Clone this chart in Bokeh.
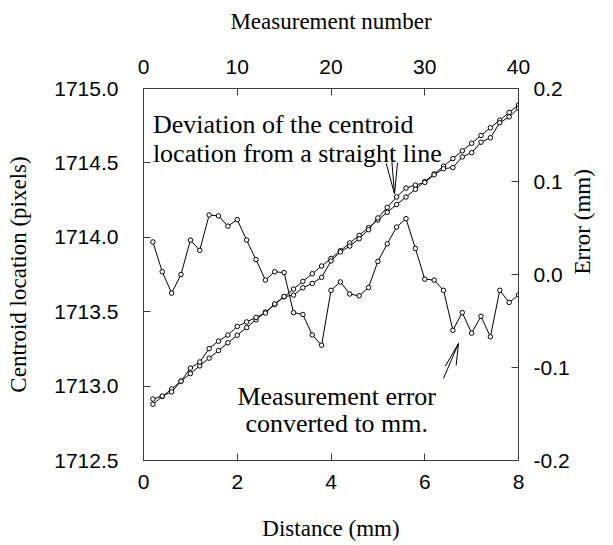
import math
from bokeh.plotting import figure
from bokeh.models import Range1d, LinearAxis, FixedTicker, Label, CustomJSTickFormatter, ColumnDataSource
from bokeh.embed import file_html
from bokeh.resources import INLINE

# ---- data ----
distance_mm = [0.2, 0.4, 0.6, 0.8, 1.0, 1.2, 1.4, 1.6, 1.8, 2.0,
               2.2, 2.4, 2.6, 2.8, 3.0, 3.2, 3.4, 3.6, 3.8, 4.0,
               4.2, 4.4, 4.6, 4.8, 5.0, 5.2, 5.4, 5.6, 5.8, 6.0,
               6.2, 6.4, 6.6, 6.8, 7.0, 7.2, 7.4, 7.6, 7.8, 8.0]

centroid_fit = [1712.878, 1712.930, 1712.981, 1713.033, 1713.084, 1713.136, 1713.188, 1713.239, 1713.291, 1713.342,
                1713.394, 1713.446, 1713.497, 1713.549, 1713.600, 1713.652, 1713.704, 1713.755, 1713.807, 1713.858,
                1713.910, 1713.962, 1714.013, 1714.065, 1714.116, 1714.168, 1714.220, 1714.271, 1714.323, 1714.374,
                1714.426, 1714.478, 1714.529, 1714.581, 1714.632, 1714.684, 1714.736, 1714.787, 1714.839, 1714.890]

centroid_measured = [1712.913, 1712.933, 1712.961, 1713.033, 1713.121, 1713.162, 1713.252, 1713.302, 1713.343, 1713.401,
                     1713.431, 1713.462, 1713.491, 1713.552, 1713.602, 1713.611, 1713.661, 1713.690, 1713.731, 1713.841,
                     1713.902, 1713.941, 1713.990, 1714.051, 1714.130, 1714.201, 1714.271, 1714.331, 1714.351, 1714.369,
                     1714.420, 1714.461, 1714.469, 1714.540, 1714.569, 1714.639, 1714.669, 1714.770, 1714.809, 1714.868]

error_mm = [0.035, 0.003, -0.020, 0.000, 0.037, 0.026, 0.064, 0.063, 0.052, 0.059,
            0.037, 0.016, -0.006, 0.003, 0.002, -0.041, -0.043, -0.065, -0.076, -0.017,
            -0.008, -0.021, -0.023, -0.014, 0.014, 0.033, 0.051, 0.060, 0.028, -0.005,
            -0.006, -0.017, -0.060, -0.041, -0.063, -0.045, -0.067, -0.017, -0.030, -0.022]

left_ticks = [1712.5, 1713.0, 1713.5, 1714.0, 1714.5, 1715.0]
bottom_ticks = [0, 2, 4, 6, 8]
top_ticks = [0, 10, 20, 30, 40]
right_ticks = [-0.2, -0.1, 0.0, 0.1, 0.2]

src = ColumnDataSource(dict(x=distance_mm, fit=centroid_fit, meas=centroid_measured, err=error_mm))

SERIF = "Liberation Serif"
SANS = "Liberation Sans"
AX = "#3a3a3a"

p = figure(width=613, height=545, output_backend="svg", toolbar_location=None,
           x_range=Range1d(0, 8), y_range=Range1d(1712.5, 1715.0),
           min_border_left=143, min_border_right=95, min_border_top=88, min_border_bottom=85,
           background_fill_color="white", border_fill_color="white")
p.outline_line_color = AX
p.grid.visible = False

p.extra_x_ranges = {"meas": Range1d(0, 40)}
p.extra_y_ranges = {"err": Range1d(-0.2, 0.2)}

p.xaxis.ticker = FixedTicker(ticks=bottom_ticks)
p.xaxis.axis_label = "Distance (mm)"
p.yaxis.ticker = FixedTicker(ticks=left_ticks)
p.yaxis.formatter = CustomJSTickFormatter(code="return tick.toFixed(1);")
p.yaxis.axis_label = "Centroid location (pixels)"

top = LinearAxis(x_range_name="meas", ticker=FixedTicker(ticks=top_ticks), axis_label="Measurement number")
p.add_layout(top, "above")
right = LinearAxis(y_range_name="err", ticker=FixedTicker(ticks=right_ticks),
                   formatter=CustomJSTickFormatter(code="return tick.toFixed(1);"),
                   axis_label="Error (mm)")
right.axis_label_orientation = math.pi / 2
p.add_layout(right, "right")

for ax in p.axis:
    ax.major_tick_in = 7
    ax.major_tick_out = 0
    ax.minor_tick_in = 0
    ax.minor_tick_out = 0
    ax.axis_line_color = AX
    ax.major_tick_line_color = AX
    ax.major_label_text_font = SANS
    ax.major_label_text_font_size = "21px"
    ax.major_label_text_color = "black"
    ax.axis_label_text_font = SERIF
    ax.axis_label_text_font_style = "normal"
    ax.axis_label_text_font_size = "23px"
    ax.axis_label_text_color = "black"

p.yaxis.major_label_standoff = 25
p.yaxis.axis_label_standoff = 20
right.major_label_standoff = 15
right.axis_label_standoff = 10
p.xaxis.major_label_standoff = 14
p.xaxis.axis_label_standoff = 24
top.major_label_standoff = 15
top.axis_label_standoff = 23

# lines with small open circles
for col, yr in (("fit", "default"), ("meas", "default"), ("err", "err")):
    p.line("x", col, source=src, line_color="black", line_width=1, y_range_name=yr)
    p.scatter("x", col, source=src, marker="circle", size=4.5, line_color="black",
              fill_color="white", line_width=1, y_range_name=yr)

# annotations
for txt, yy in (("Deviation of the centroid", 1714.755), ("location from a straight line", 1714.56)):
    p.add_layout(Label(x=0.2, y=yy, text=txt, text_font=SERIF, text_font_size="26px",
                       text_color="black", text_baseline="alphabetic", text_align="left"))
for txt, yy in (("Measurement error", 1712.929), ("converted to mm.", 1712.752)):
    p.add_layout(Label(x=4.122, y=yy, text=txt, text_font=SERIF, text_font_size="26px",
                       text_color="black", text_baseline="alphabetic", text_align="center"))

# arrows (drawn as three strokes each)
arrow_x0 = [5.299, 5.178, 5.419, 6.40, 6.44, 6.67]
arrow_y0 = [1714.508, 1714.497, 1714.501, 1713.052, 1713.135, 1713.140]
arrow_x1 = [5.355, 5.355, 5.355, 6.72, 6.72, 6.72]
arrow_y1 = [1714.291, 1714.291, 1714.291, 1713.287, 1713.287, 1713.287]
p.segment(arrow_x0, arrow_y0, arrow_x1, arrow_y1, line_color="black", line_width=1)

open("out.html", "w").write(file_html(p, INLINE))
